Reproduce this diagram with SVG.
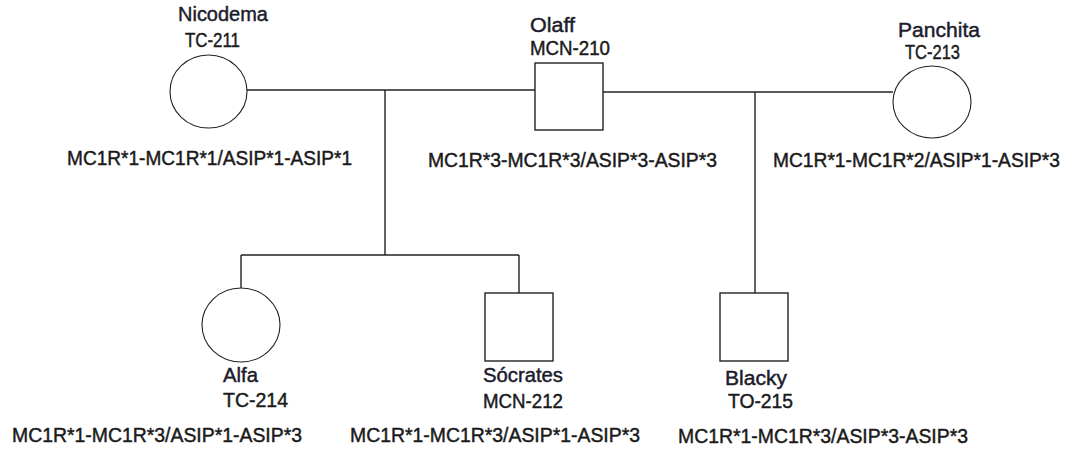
<svg xmlns="http://www.w3.org/2000/svg" width="1070" height="449" viewBox="0 0 1070 449">
<style>
text{font-family:"Liberation Sans",Arial,sans-serif;font-size:20px;fill:#1a1a1a;stroke:#1a1a1a;stroke-width:0.45}
.name{fill:#1c1c2c;stroke:#1c1c2c}
.shape{fill:#fff;stroke:#222;stroke-width:1.4}
.fem{fill:#fff;stroke:#222;stroke-width:1.1}
.conn line{stroke:#222;stroke-width:1.4}
</style>
<rect width="1070" height="449" fill="#fff"/>
<g id="connectors" class="conn">
<line x1="247" y1="90" x2="535" y2="90"/>
<line x1="603" y1="92" x2="893" y2="92"/>
<line x1="385" y1="90" x2="385" y2="255"/>
<line x1="241" y1="255" x2="519" y2="255"/>
<line x1="241" y1="255" x2="241" y2="288"/>
<line x1="519" y1="255" x2="519" y2="293"/>
<line x1="755" y1="92" x2="755" y2="293"/>
</g>
<g id="nicodema">
<ellipse class="fem" cx="208.5" cy="91.5" rx="38.5" ry="36.5"/>
<text class="name" x="178" y="21" textLength="90" lengthAdjust="spacingAndGlyphs">Nicodema</text>
<text x="185" y="47" textLength="55" lengthAdjust="spacingAndGlyphs">TC-211</text>
<text x="67" y="165" textLength="285" lengthAdjust="spacingAndGlyphs">MC1R*1-MC1R*1/ASIP*1-ASIP*1</text>
</g>
<g id="olaff">
<rect class="shape" x="535" y="63" width="68" height="67"/>
<text class="name" x="530" y="32" textLength="45" lengthAdjust="spacingAndGlyphs">Olaff</text>
<text x="530" y="55" textLength="80" lengthAdjust="spacingAndGlyphs">MCN-210</text>
<text x="428" y="167" textLength="289" lengthAdjust="spacingAndGlyphs">MC1R*3-MC1R*3/ASIP*3-ASIP*3</text>
</g>
<g id="panchita">
<ellipse class="fem" cx="932" cy="102" rx="39" ry="36"/>
<text class="name" x="898" y="37" textLength="82" lengthAdjust="spacingAndGlyphs">Panchita</text>
<text x="905" y="59" textLength="55" lengthAdjust="spacingAndGlyphs">TC-213</text>
<text x="773" y="167" textLength="287" lengthAdjust="spacingAndGlyphs">MC1R*1-MC1R*2/ASIP*1-ASIP*3</text>
</g>
<g id="alfa">
<ellipse class="fem" cx="241" cy="325" rx="39" ry="37"/>
<text class="name" x="223" y="382" textLength="35" lengthAdjust="spacingAndGlyphs">Alfa</text>
<text x="223" y="407" textLength="65" lengthAdjust="spacingAndGlyphs">TC-214</text>
<text x="12" y="442" textLength="290" lengthAdjust="spacingAndGlyphs">MC1R*1-MC1R*3/ASIP*1-ASIP*3</text>
</g>
<g id="socrates">
<rect class="shape" x="485" y="293" width="68" height="68"/>
<text class="name" x="483" y="382" textLength="80" lengthAdjust="spacingAndGlyphs">Sócrates</text>
<text x="483" y="408" textLength="80" lengthAdjust="spacingAndGlyphs">MCN-212</text>
<text x="350" y="442" textLength="290" lengthAdjust="spacingAndGlyphs">MC1R*1-MC1R*3/ASIP*1-ASIP*3</text>
</g>
<g id="blacky">
<rect class="shape" x="720" y="293" width="68" height="68"/>
<text class="name" x="725" y="385" textLength="62" lengthAdjust="spacingAndGlyphs">Blacky</text>
<text x="728" y="408" textLength="65" lengthAdjust="spacingAndGlyphs">TO-215</text>
<text x="678" y="443" textLength="290" lengthAdjust="spacingAndGlyphs">MC1R*1-MC1R*3/ASIP*3-ASIP*3</text>
</g>
</svg>
